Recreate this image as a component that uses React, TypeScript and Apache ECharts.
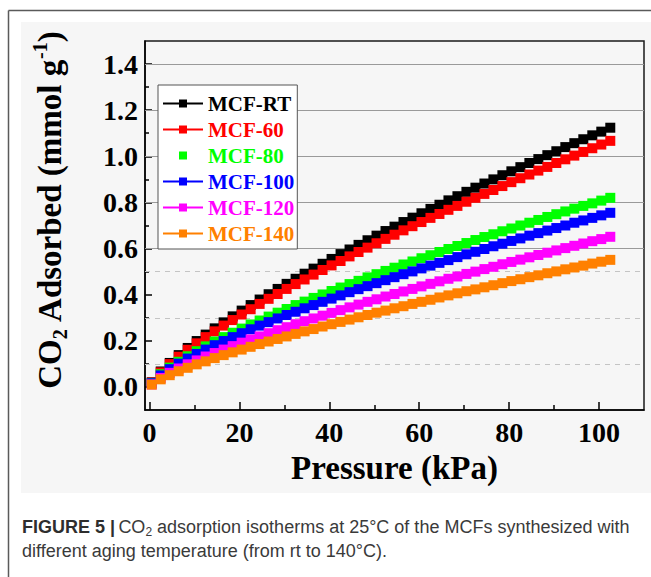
import React, { useEffect, useRef } from "react";
import * as echarts from "echarts";

// Pressure (kPa) at which each isotherm point was measured
const pressure = [
  0.5, 2.5, 4.5, 6.5, 8.5, 10.5, 12.5, 14.5, 16.5, 18.5, 20.5, 22.5, 24.5, 26.5,
  28.5, 30.5, 32.5, 34.5, 36.5, 38.5, 40.5, 42.5, 44.5, 46.5, 48.5, 50.5, 52.5,
  54.5, 56.5, 58.5, 60.5, 62.5, 64.5, 66.5, 68.5, 70.5, 72.5, 74.5, 76.5, 78.5,
  80.5, 82.5, 84.5, 86.5, 88.5, 90.5, 92.5, 94.5, 96.5, 98.5, 100.5, 102.5,
];

// CO2 adsorbed (mmol/g)
const mcfRT = [
  0.02, 0.067, 0.104, 0.138, 0.169, 0.199, 0.227, 0.254, 0.28, 0.306, 0.331, 0.355,
  0.379, 0.402, 0.425, 0.447, 0.469, 0.491, 0.513, 0.534, 0.555, 0.576, 0.596,
  0.616, 0.636, 0.656, 0.676, 0.695, 0.715, 0.734, 0.753, 0.772, 0.79, 0.809,
  0.827, 0.846, 0.864, 0.882, 0.9, 0.918, 0.935, 0.953, 0.971, 0.988, 1.005,
  1.022, 1.04, 1.057, 1.074, 1.091, 1.107, 1.124,
];
const mcf60 = [
  0.019, 0.063, 0.099, 0.131, 0.161, 0.189, 0.216, 0.241, 0.266, 0.29, 0.314,
  0.337, 0.36, 0.382, 0.403, 0.425, 0.446, 0.466, 0.487, 0.507, 0.527, 0.546,
  0.566, 0.585, 0.604, 0.623, 0.642, 0.66, 0.679, 0.697, 0.715, 0.733, 0.75,
  0.768, 0.785, 0.803, 0.82, 0.837, 0.854, 0.871, 0.888, 0.905, 0.921, 0.938,
  0.954, 0.971, 0.987, 1.003, 1.019, 1.035, 1.051, 1.067,
];
const mcf80 = [
  0.017, 0.055, 0.084, 0.109, 0.133, 0.155, 0.176, 0.197, 0.216, 0.235, 0.253,
  0.271, 0.288, 0.305, 0.322, 0.338, 0.355, 0.37, 0.386, 0.401, 0.416, 0.431,
  0.446, 0.46, 0.475, 0.489, 0.503, 0.517, 0.531, 0.544, 0.558, 0.571, 0.585,
  0.598, 0.611, 0.624, 0.637, 0.65, 0.662, 0.675, 0.687, 0.7, 0.712, 0.724,
  0.737, 0.749, 0.761, 0.773, 0.785, 0.796, 0.808, 0.82,
];
const mcf100 = [
  0.016, 0.05, 0.077, 0.101, 0.123, 0.143, 0.162, 0.181, 0.199, 0.216, 0.233,
  0.25, 0.266, 0.281, 0.297, 0.312, 0.326, 0.341, 0.355, 0.369, 0.383, 0.397,
  0.411, 0.424, 0.437, 0.45, 0.463, 0.476, 0.489, 0.501, 0.514, 0.526, 0.538,
  0.55, 0.563, 0.575, 0.586, 0.598, 0.61, 0.621, 0.633, 0.644, 0.656, 0.667,
  0.678, 0.689, 0.7, 0.712, 0.722, 0.733, 0.744, 0.755,
];
const mcf120 = [
  0.011, 0.039, 0.061, 0.08, 0.098, 0.115, 0.132, 0.147, 0.162, 0.177, 0.192,
  0.206, 0.219, 0.233, 0.246, 0.259, 0.272, 0.285, 0.297, 0.309, 0.321, 0.333,
  0.345, 0.357, 0.369, 0.38, 0.392, 0.403, 0.414, 0.425, 0.436, 0.447, 0.458,
  0.469, 0.479, 0.49, 0.5, 0.511, 0.521, 0.532, 0.542, 0.552, 0.562, 0.572,
  0.582, 0.592, 0.602, 0.612, 0.622, 0.632, 0.641, 0.651,
];
const mcf140 = [
  0.01, 0.033, 0.051, 0.068, 0.083, 0.098, 0.111, 0.125, 0.138, 0.15, 0.162,
  0.174, 0.186, 0.197, 0.208, 0.219, 0.23, 0.241, 0.251, 0.262, 0.272, 0.282,
  0.292, 0.302, 0.312, 0.322, 0.331, 0.341, 0.35, 0.36, 0.369, 0.378, 0.388,
  0.397, 0.406, 0.415, 0.423, 0.432, 0.441, 0.45, 0.459, 0.467, 0.476, 0.484,
  0.493, 0.501, 0.51, 0.518, 0.526, 0.535, 0.543, 0.551,
];

const seriesNames = ["MCF-RT", "MCF-60", "MCF-80", "MCF-100", "MCF-120", "MCF-140"];
const seriesValues = [mcfRT, mcf60, mcf80, mcf100, mcf120, mcf140];
const seriesColors = ["#000000", "#ff0000", "#00ff00", "#0000ff", "#ff00ff", "#ff8000"];
const legendLineVisible = [true, true, false, true, true, true];

const xTickValues = [0, 20, 40, 60, 80, 100];
const xMinorTickValues = [10, 30, 50, 70, 90];
const yTickValues = [0, 0.2, 0.4, 0.6, 0.8, 1.0, 1.2, 1.4];
const yMinorTickValues = [0.1, 0.3, 0.5, 0.7, 0.9, 1.1, 1.3];
const solidGridValues = [0.6, 0.8, 1.0, 1.2, 1.4];
const dashedGridValues = [0.1, 0.3, 0.5];

const SERIF = "'Liberation Serif', 'Times New Roman', serif";
const SANS = "'Liberation Sans', Arial, sans-serif";

export default function App() {
  const ref = useRef<HTMLDivElement>(null);

  useEffect(() => {
    if (!ref.current) return;
    const chart = echarts.init(ref.current, null, { renderer: "svg" });

    const axisBase = {
      type: "value" as const,
      splitLine: { show: false },
    };

    const option: any = {
      animation: false,
      backgroundColor: "#ffffff",
      grid: {
        left: 145,
        right: 7,
        top: 41,
        bottom: 167,
        show: true,
        borderColor: "#1a1a1a",
        borderWidth: 1.5,
        backgroundColor: "transparent",
        containLabel: false,
        outerBoundsMode: "none",
      },
      xAxis: [
        {
          ...axisBase,
          min: -1,
          max: 110,
          position: "bottom",
          name: "Pressure (kPa)",
          nameLocation: "middle",
          nameGap: 41,
          nameMoveOverlap: false,
          nameTextStyle: { fontFamily: SERIF, fontWeight: "bold", fontSize: 33, color: "#000" },
          axisLine: { show: true, onZero: false, lineStyle: { color: "#000", width: 1.5 } },
          axisTick: {
            show: true,
            inside: true,
            length: 8,
            customValues: xTickValues,
            lineStyle: { color: "#000", width: 1.5 },
          },
          axisLabel: {
            customValues: xTickValues,
            fontFamily: SERIF,
            fontWeight: "bold",
            fontSize: 28,
            color: "#000",
            margin: 8,
          },
        },
        {
          ...axisBase,
          min: -1,
          max: 110,
          position: "bottom",
          axisLine: { show: false, onZero: false },
          axisTick: {
            show: true,
            inside: true,
            length: 5,
            customValues: xMinorTickValues,
            lineStyle: { color: "#000", width: 1.5 },
          },
          axisLabel: { show: false },
        },
      ],
      yAxis: [
        {
          ...axisBase,
          min: -0.1,
          max: 1.5,
          position: "left",
          axisLine: { show: true, onZero: false, lineStyle: { color: "#000", width: 1.5 } },
          axisTick: {
            show: true,
            inside: true,
            length: 7,
            customValues: yTickValues,
            lineStyle: { color: "#000", width: 1.5 },
          },
          axisLabel: {
            customValues: yTickValues,
            formatter: (v: number) => v.toFixed(1),
            fontFamily: SERIF,
            fontWeight: "bold",
            fontSize: 28,
            color: "#000",
            margin: 7,
          },
        },
        {
          ...axisBase,
          min: -0.1,
          max: 1.5,
          position: "left",
          axisLine: { show: false, onZero: false },
          axisTick: {
            show: true,
            inside: true,
            length: 4,
            customValues: yMinorTickValues,
            lineStyle: { color: "#000", width: 1.5 },
          },
          axisLabel: { show: false },
        },
      ],
      legend: {
        orient: "vertical",
        left: 158,
        top: 85,
        itemWidth: 40,
        itemHeight: 10,
        itemGap: 5,
        padding: [8, 3, 5, 4],
        backgroundColor: "#ffffff",
        borderColor: "#555",
        borderWidth: 1,
        textStyle: { fontFamily: SERIF, fontWeight: "bold", fontSize: 21, lineHeight: 21 },
        data: seriesNames.map((n, i) => ({ name: n, textStyle: { color: seriesColors[i] } })),
      },
      series: [
        {
          type: "line",
          name: "gridlines",
          data: [],
          silent: true,
          markLine: {
            silent: true,
            symbol: "none",
            z: 1,
            label: { show: false },
            data: [
              ...solidGridValues.map((v) => ({
                yAxis: v,
                lineStyle: { color: "#9a9a9a", width: 1, type: "solid" },
              })),
              ...dashedGridValues.map((v) => ({
                yAxis: v,
                lineStyle: { color: "#c4c4c4", width: 1, type: [5, 5] },
              })),
            ],
          },
        },
        ...seriesNames.map((name, i) => ({
          type: "line",
          name,
          xAxisIndex: 0,
          yAxisIndex: 0,
          data: pressure.map((p, k) => [p, seriesValues[i][k]]),
          symbol: "rect",
          symbolSize: 10,
          showSymbol: true,
          showAllSymbol: true,
          lineStyle: { color: seriesColors[i], width: 1, opacity: legendLineVisible[i] ? 1 : 0 },
          itemStyle: { color: seriesColors[i] },
          emphasis: { disabled: true },
          z: 2 + i,
        })),
      ],
      graphic: [
        {
          type: "rect",
          z: -100,
          silent: true,
          shape: { x: 21, y: 22, width: 630, height: 471 },
          style: { fill: "#f6f6f6" },
        },
        {
          type: "line",
          silent: true,
          shape: { x1: 8.5, y1: 10.5, x2: 651, y2: 10.5 },
          style: { stroke: "#5a5a5a", lineWidth: 1.5 },
        },
        {
          type: "line",
          silent: true,
          shape: { x1: 8.5, y1: 10.5, x2: 8.5, y2: 577 },
          style: { stroke: "#5a5a5a", lineWidth: 1.5 },
        },
        {
          type: "text",
          silent: true,
          x: 50,
          y: 210,
          rotation: Math.PI / 2,
          style: {
            text: "{a|CO}{s|2}{a| Adsorbed (mmol g}{p|-1}{a|)}",
            align: "center",
            verticalAlign: "middle",
            rich: {
              a: { fontFamily: SERIF, fontWeight: "bold", fontSize: 33, lineHeight: 40, fill: "#000", verticalAlign: "middle" },
              s: { fontFamily: SERIF, fontWeight: "bold", fontSize: 20, lineHeight: 40, fill: "#000", verticalAlign: "bottom" },
              p: { fontFamily: SERIF, fontWeight: "bold", fontSize: 20, lineHeight: 40, fill: "#000", verticalAlign: "top" },
            },
          },
        },
        {
          type: "text",
          silent: true,
          x: 22,
          y: 527,
          style: {
            text: "{b|FIGURE 5 |} {n|CO}{s|2}{n| adsorption isotherms at 25°C of the MCFs synthesized with}",
            verticalAlign: "middle",
            rich: {
              b: { fontFamily: SANS, fontWeight: "bold", fontSize: 18, lineHeight: 22, fill: "#2e2e2e" },
              n: { fontFamily: SANS, fontSize: 18, lineHeight: 22, fill: "#3a3a3a" },
              s: { fontFamily: SANS, fontSize: 12, lineHeight: 22, fill: "#3a3a3a", verticalAlign: "bottom" },
            },
          },
        },
        {
          type: "text",
          silent: true,
          x: 22,
          y: 551,
          style: {
            text: "different aging temperature (from rt to 140°C).",
            verticalAlign: "middle",
            fontFamily: SANS,
            fontSize: 18,
            fill: "#3a3a3a",
          },
        },
      ],
    };

    chart.setOption(option);
    return () => chart.dispose();
  }, []);

  return (
    <div
      ref={ref}
      style={{ position: "fixed", left: 0, top: 0, width: 651, height: 577, background: "#fff" }}
    />
  );
}
